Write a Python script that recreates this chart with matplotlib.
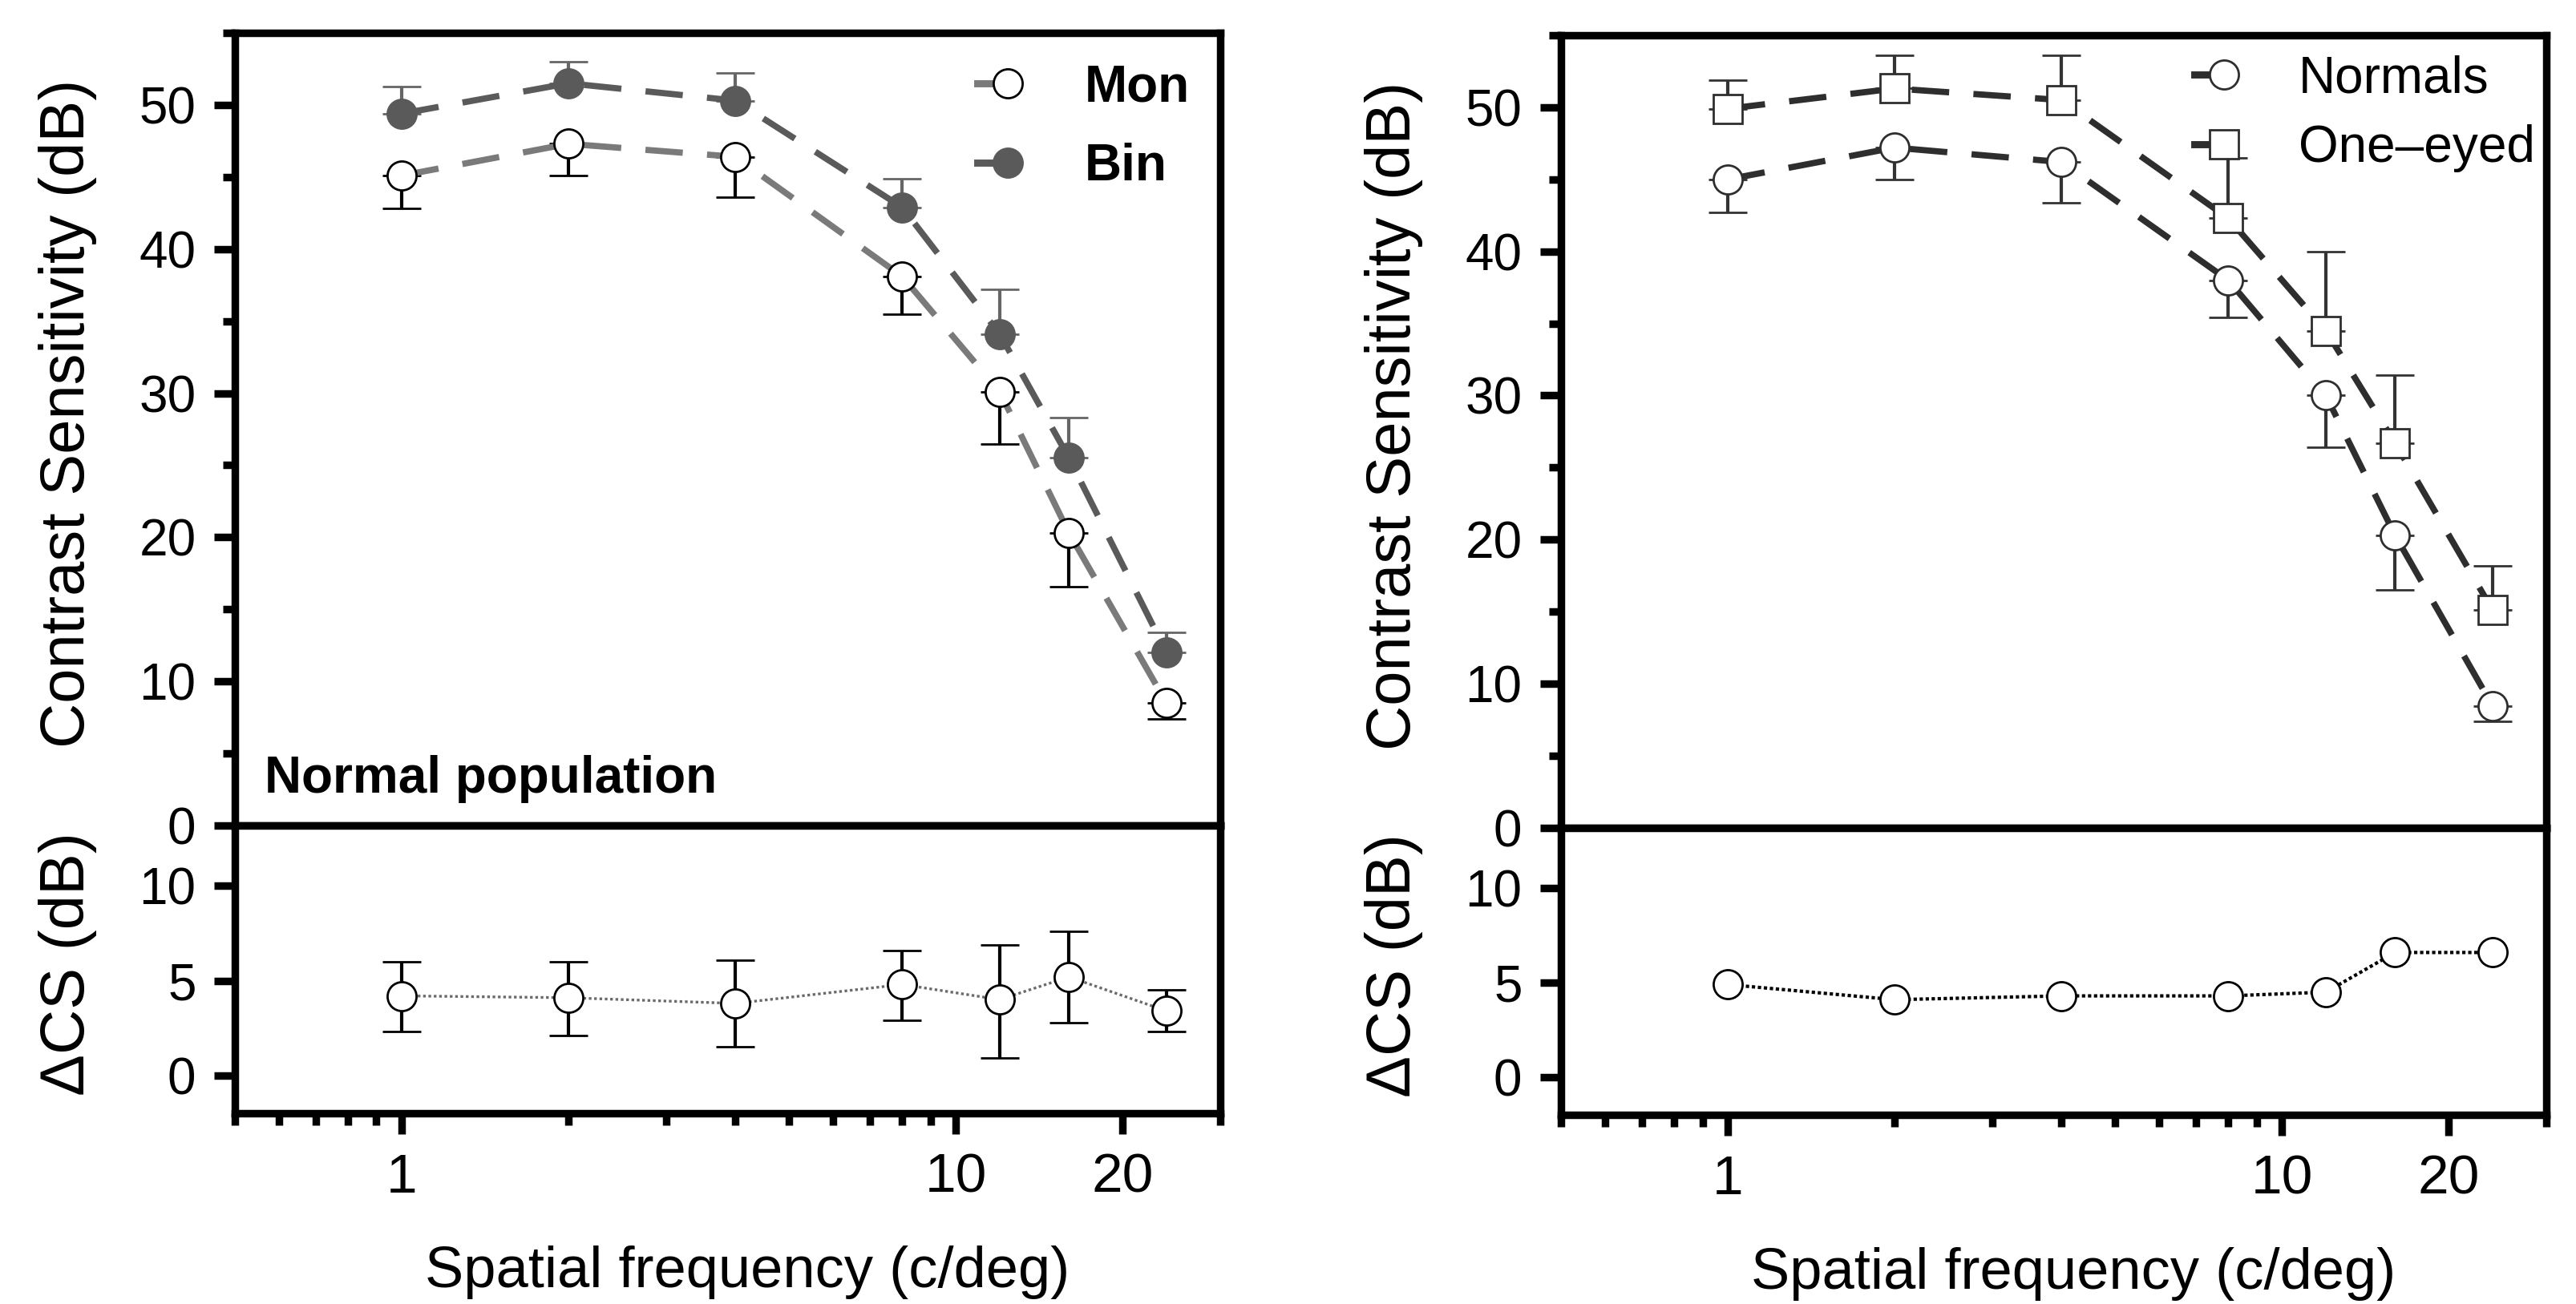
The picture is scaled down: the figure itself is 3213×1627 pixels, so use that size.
import numpy as np
import matplotlib
matplotlib.use('Agg')
import matplotlib.pyplot as plt
from matplotlib.lines import Line2D
from matplotlib.legend_handler import HandlerLine2DCompound
from matplotlib.ticker import FixedLocator, FixedFormatter, MultipleLocator, NullFormatter

plt.rcParams['font.family'] = ['Liberation Sans', 'DejaVu Sans']

# spatial frequencies (c/deg)
freq = [1, 2, 4, 8, 12, 16, 24]

# left: normal population, monocular vs binocular
mon = [45.1, 47.3, 46.4, 38.1, 30.1, 20.3, 8.5]
mon_lo = [42.8, 45.1, 43.6, 35.5, 26.5, 16.6, 7.4]
binoc = [49.4, 51.5, 50.3, 42.9, 34.1, 25.5, 12.0]
bin_hi = [51.3, 53.0, 52.2, 44.9, 37.2, 28.3, 13.4]

dcs_left = [4.2, 4.1, 3.8, 4.8, 4.0, 5.2, 3.4]
dcs_left_hi = [6.0, 6.0, 6.1, 6.6, 6.9, 7.6, 4.5]
dcs_left_lo = [2.3, 2.1, 1.5, 2.9, 0.9, 2.8, 2.3]

# right: normals vs one-eyed
normals = [45.0, 47.2, 46.2, 38.0, 30.0, 20.3, 8.45]
normals_lo = [42.7, 45.0, 43.4, 35.4, 26.4, 16.5, 7.4]
oneeyed = [49.9, 51.3, 50.5, 42.3, 34.5, 26.7, 15.1]
oneeyed_hi = [51.9, 53.6, 53.6, 46.5, 40.0, 31.4, 18.2]

dcs_right = [4.9, 4.1, 4.3, 4.3, 4.5, 6.6, 6.6]

SPINE = 3.4
MS = 13
DASH = (0, (6, 3.9))


class StubHandler(HandlerLine2DCompound):
    # short solid stub with the marker sitting at its right end
    def create_artists(self, legend, orig_handle, xdescent, ydescent,
                       width, height, fontsize, trans):
        y = (height - ydescent) / 2
        stub = Line2D([-xdescent, width - xdescent], [y, y])
        self.update_prop(stub, orig_handle, legend)
        stub.set_marker('')
        stub.set_linestyle('-')
        stub.set_linewidth(3.2)
        mk = Line2D([width - xdescent], [y])
        self.update_prop(mk, orig_handle, legend)
        mk.set_linestyle('None')
        stub.set_transform(trans)
        mk.set_transform(trans)
        return [stub, mk]


def style_axes(ax):
    for s in ax.spines.values():
        s.set_linewidth(SPINE)
    ax.tick_params(which='both', direction='out', width=SPINE, top=False, right=False)
    ax.tick_params(which='major', length=9.5)
    ax.tick_params(which='minor', length=5.5)
    ax.tick_params(axis='y', labelsize=23, pad=8)
    ax.tick_params(axis='x', labelsize=25, pad=8)


def errs(y, lo=None, hi=None):
    y = np.array(y)
    down = y - np.array(lo) if lo is not None else np.zeros_like(y)
    up = np.array(hi) - y if hi is not None else np.zeros_like(y)
    return [down, up]


fig = plt.figure(figsize=(3213 / 200, 1627 / 200), dpi=200)

panels = [
    (0.0912, 0.3669, 0.1463, 0.2207),
    (0.6060, 0.3651, 0.1451, 0.2200),
]

axes = []
for x0, ub, lb, lh in panels:
    ax_top = fig.add_axes([x0, ub, 0.3825, 0.6079])
    ax_bot = fig.add_axes([x0, lb, 0.3825, lh], sharex=ax_top)
    for ax in (ax_top, ax_bot):
        style_axes(ax)
    ax_bot.set_xscale('log')
    ax_bot.set_xlim(0.5, 30)
    ax_bot.xaxis.set_major_locator(FixedLocator([1, 10, 20]))
    ax_bot.xaxis.set_minor_locator(FixedLocator([0.5, 0.6, 0.7, 0.8, 0.9, 2, 3, 4, 5, 6, 7, 8, 9, 30]))
    ax_bot.xaxis.set_major_formatter(FixedFormatter(['1', '10', '20']))
    ax_bot.xaxis.set_minor_formatter(NullFormatter())
    ax_top.tick_params(axis='x', which='both', bottom=False, labelbottom=False)

    ax_top.set_ylim(0, 55)
    ax_top.yaxis.set_major_locator(MultipleLocator(10))
    ax_top.yaxis.set_minor_locator(MultipleLocator(5))
    ax_bot.set_ylim(-2, 13.2)
    ax_bot.yaxis.set_major_locator(FixedLocator([0, 5, 10]))
    ax_bot.yaxis.set_minor_locator(FixedLocator([]))

    ax_top.set_ylabel('Contrast Sensitivity (dB)', fontsize=28)
    ax_top.yaxis.set_label_coords(-0.14, 0.52)
    ax_bot.set_ylabel('ΔCS (dB)', fontsize=28)
    ax_bot.yaxis.set_label_coords(-0.14, 0.52)
    ax_bot.set_xlabel('Spatial frequency (c/deg)', fontsize=26)
    ax_bot.xaxis.set_label_coords(0.52, -0.46)
    axes.append((ax_top, ax_bot))

# ---- left panel ----
ax, axd = axes[0]
eb_mon = ax.errorbar(freq, mon, yerr=errs(mon, lo=mon_lo), fmt='o', ls=DASH, lw=2.8,
                     color='#7a7a7a', mfc='white', mec='black', mew=1.0, ms=MS,
                     ecolor='black', elinewidth=1.5, capsize=8.6, capthick=1.8)
eb_bin = ax.errorbar(freq, binoc, yerr=errs(binoc, hi=bin_hi), fmt='o', ls=DASH, lw=2.8,
                     color='#5a5a5a', mfc='#5a5a5a', mec='#5a5a5a', mew=1.0, ms=MS,
                     ecolor='#666666', elinewidth=1.5, capsize=8.6, capthick=1.8)
ax.legend([eb_mon[0], eb_bin[0]], ['Mon', 'Bin'], handler_map={Line2D: StubHandler()},
          loc='upper left', bbox_to_anchor=(0.7535, 0.961), frameon=False,
          borderpad=0, borderaxespad=0, handlelength=0.6, handletextpad=1.5,
          labelspacing=0.6, prop={'weight': 'bold', 'size': 23})
ax.text(0.030, 0.042, 'Normal population', transform=ax.transAxes, fontsize=23,
        fontweight='bold', va='baseline', ha='left')

axd.errorbar(freq, dcs_left, yerr=errs(dcs_left, lo=dcs_left_lo, hi=dcs_left_hi), fmt='o',
             ls=(0, (1, 1)), lw=1.2, color='#6a6a6a', mfc='white', mec='black', mew=1.0,
             ms=MS, ecolor='black', elinewidth=1.5, capsize=8.6, capthick=1.8)

# ---- right panel ----
ax, axd = axes[1]
eb_n = ax.errorbar(freq, normals, yerr=errs(normals, lo=normals_lo), fmt='o', ls=DASH, lw=2.8,
                   color='#2e2e2e', mfc='white', mec='#2e2e2e', mew=1.0, ms=MS,
                   ecolor='#333333', elinewidth=1.5, capsize=8.6, capthick=1.8)
eb_o = ax.errorbar(freq, oneeyed, yerr=errs(oneeyed, hi=oneeyed_hi), fmt='s', ls=DASH, lw=2.8,
                   color='#2e2e2e', mfc='white', mec='#2e2e2e', mew=1.0, ms=MS,
                   ecolor='#333333', elinewidth=1.5, capsize=8.6, capthick=1.8)
ax.legend([eb_n[0], eb_o[0]], ['Normals', 'One\u2013eyed'], handler_map={Line2D: StubHandler()},
          loc='upper left', bbox_to_anchor=(0.643, 0.975), frameon=False,
          borderpad=0, borderaxespad=0, handlelength=0.58, handletextpad=1.45,
          labelspacing=0.42, prop={'size': 23})

axd.plot(freq, dcs_right, marker='o', ls=(0, (1, 0.8)), lw=1.5, color='black',
         mfc='white', mec='black', mew=1.0, ms=MS)

fig.savefig('out.png', dpi=200)
